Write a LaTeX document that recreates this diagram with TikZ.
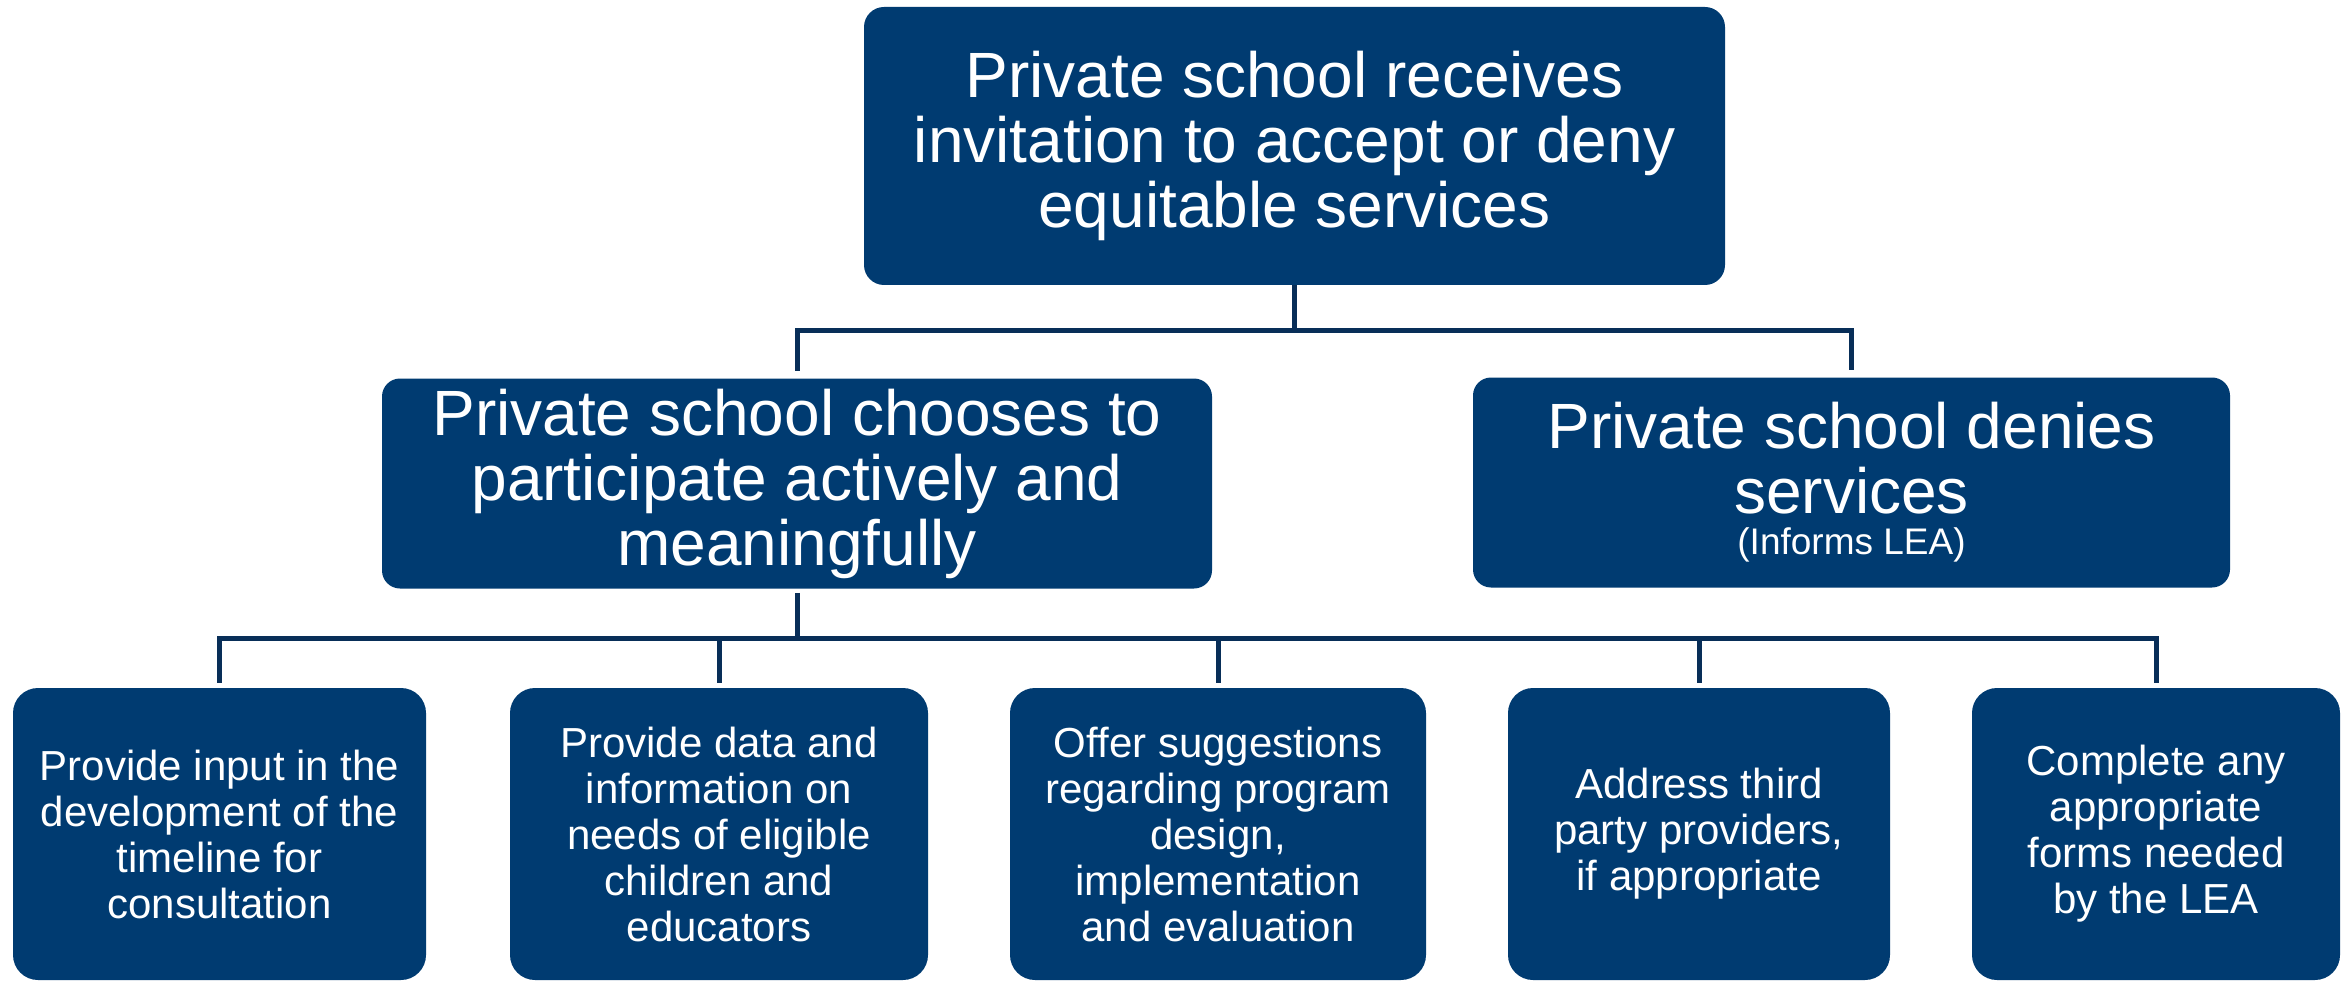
\documentclass[tikz,border=0pt]{standalone}
\usepackage{fontspec}
\setmainfont{Liberation Sans}
\definecolor{navy}{RGB}{0,59,113}
\definecolor{linecol}{RGB}{8,46,88}
\newcommand\fbig{\fontsize{32}{32.5}\selectfont}
\newcommand\fsmall{\fontsize{18.5}{20}\selectfont}
\newcommand\flow{\fontsize{21}{23}\selectfont}
\begin{document}
\begin{tikzpicture}[x=0.5pt,y=-0.5pt,
  basebox/.style={fill=navy, text=white, align=center, inner sep=0pt},
  topbox/.style={basebox, rounded corners=10pt, minimum width=430.5pt, minimum height=139pt, font=\fbig},
  midbox/.style={basebox, rounded corners=9pt, minimum height=105pt, font=\fbig},
  lowbox/.style={basebox, rounded corners=12.5pt, minimum height=146pt, font=\flow},
  conn/.style={draw=linecol, line width=2.5pt, line join=miter}]
\useasboundingbox (0,0) rectangle (2351,984);

\node[topbox] (top) at (1294.5,146) {Private school receives\\invitation to accept or deny\\equitable services};
\node[midbox, minimum width=415pt] (ml) at (797,483.5) {Private school chooses to\\participate actively and\\meaningfully};
\node[midbox, minimum width=378.5pt] (mr) at (1851.5,482.5) {Private school denies\\services\\[-12pt]{\fsmall (Informs LEA)}};

\node[lowbox, minimum width=206.5pt] (b1) at (219.5,834) {Provide input in the\\development of the\\timeline for\\consultation};
\node[lowbox, minimum width=209pt] (b2) at (719,834) {Provide data and\\information on\\needs of eligible\\children and\\educators};
\node[lowbox, minimum width=208pt] (b3) at (1218,834) {Offer suggestions\\regarding program\\design,\\implementation\\and evaluation};
\node[lowbox, minimum width=191pt] (b4) at (1699,834) {Address third\\party providers,\\if appropriate};
\node[lowbox, minimum width=184pt] (b5) at (2156,834) {Complete any\\appropriate\\forms needed\\by the LEA};

\coordinate (j1) at (1294.5,331);
\coordinate (j2) at (797,638);
\draw[conn] (top.south) -- (j1);
\draw[conn] (j1) -| ([yshift=3.5pt]ml.north);
\draw[conn] (j1) -| ([yshift=3.5pt]mr.north);
\draw[conn] ([yshift=-2pt]ml.south) -- (j2);
\foreach \n in {b1,b2,b3,b4,b5}
  \draw[conn] (j2) -| ([yshift=2.5pt]\n.north);
\end{tikzpicture}
\end{document}
